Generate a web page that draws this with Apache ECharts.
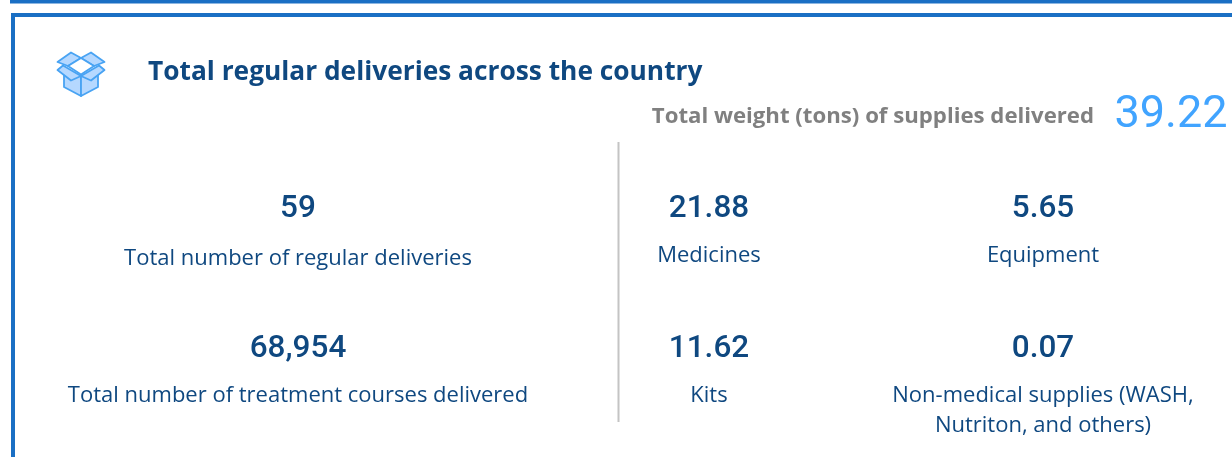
<!DOCTYPE html>
<html>
<head>
<meta charset="utf-8">
<title>Total regular deliveries across the country</title>
<script src="https://cdn.jsdelivr.net/npm/echarts@6/dist/echarts.min.js"></script>
<style>
  html, body { margin: 0; padding: 0; background: #fff; }
  #chart { width: 1232px; height: 457px; }
</style>
</head>
<body>
<div id="chart"></div>
<script>
// values read from the tile
const titleText = 'Total regular deliveries across the country'
const weightLabel = 'Total weight (tons) of supplies delivered'
const totalWeight = '39.22'
const leftValues = ['59', '68,954']
const leftLabels = ['Total number of regular deliveries', 'Total number of treatment courses delivered']
const weightValues = ['21.88', '5.65', '11.62', '0.07']
const weightLabels = ['Medicines', 'Equipment', 'Kits', 'Non-medical supplies (WASH,\nNutriton, and others)']

const NAVY = '#0f4880'
const BLUE = '#1a6fc4'
const SKY = '#41a4ff'
const LABEL_FONT = '"Open Sans", sans-serif'
const NUM_FONT = 'Roboto, sans-serif'

const chart = echarts.init(document.getElementById('chart'))

const number = (text, x, y) => ({
  type: 'text',
  style: { x, y, text, fill: NAVY, font: '500 31.5px ' + NUM_FONT, align: 'center', verticalAlign: 'middle' }
})

const label = (text, x, y) => ({
  type: 'text',
  style: { x, y, text, fill: NAVY, font: '22px ' + LABEL_FONT, lineHeight: 30, align: 'center', verticalAlign: 'top' }
})

const line = (x1, y1, x2, y2, stroke, lineWidth) => ({
  type: 'line',
  shape: { x1, y1, x2, y2 },
  style: { stroke, lineWidth }
})

const iconPart = (points, fill) => ({
  type: 'polygon',
  shape: { points },
  style: { fill: fill || '#b5d8ff', stroke: '#48a3f3', lineWidth: 1.8, lineJoin: 'round' }
})

// box icon: faces, flaps, opening
const iconParts = [
  [[64, 72], [81, 76], [81, 96], [64, 87]],
  [[98, 72], [81, 76], [81, 96], [98, 87]],
  [[57.5, 62], [71, 52.5], [81, 58], [68, 66]],
  [[104.5, 62], [91, 52.5], [81, 58], [94, 66]],
  [[57.5, 70], [63, 65.5], [81, 76], [71, 80.5]],
  [[104.5, 70], [99, 65.5], [81, 76], [91, 80.5]]
]

// tile frame, then divider, icon and texts
const elements = [
  line(10, 1.5, 1232, 1.5, BLUE, 4),
  line(11, 15, 1232, 15, BLUE, 4),
  line(13, 13, 13, 457, BLUE, 4),
  line(618.5, 142, 618.5, 422, '#c4c4c4', 2),
  ...iconParts.map((p) => iconPart(p)),
  iconPart([[81, 58], [94, 66], [81, 74.5], [68, 66]], '#fff'),
  {
    type: 'text',
    style: { x: 148, y: 73, text: titleText, fill: NAVY, font: 'bold 26.3px ' + LABEL_FONT, align: 'left', verticalAlign: 'middle' }
  },
  {
    type: 'text',
    style: { x: 1094, y: 117, text: weightLabel, fill: '#808080', font: 'bold 22.2px ' + LABEL_FONT, align: 'right', verticalAlign: 'middle' }
  },
  {
    type: 'text',
    style: { x: 1171, y: 116, text: totalWeight, fill: SKY, font: '45px ' + NUM_FONT, align: 'center', verticalAlign: 'middle' }
  }
]

const leftX = 298
const numRows = [209, 349]
const leftLabelRows = [244, 381]
const weightX = [709, 1043]
const weightLabelRows = [241, 381]

leftValues.forEach((v, i) => {
  elements.push(number(v, leftX, numRows[i]))
  elements.push(label(leftLabels[i], leftX, leftLabelRows[i]))
})
weightValues.forEach((v, i) => {
  const col = i % 2
  const row = Math.floor(i / 2)
  elements.push(number(v, weightX[col], numRows[row]))
  elements.push(label(weightLabels[i], weightX[col], weightLabelRows[row]))
})

chart.setOption({
  animation: false,
  backgroundColor: '#fff',
  graphic: { elements }
})

window.addEventListener('resize', () => chart.resize())
</script>
</body>
</html>
